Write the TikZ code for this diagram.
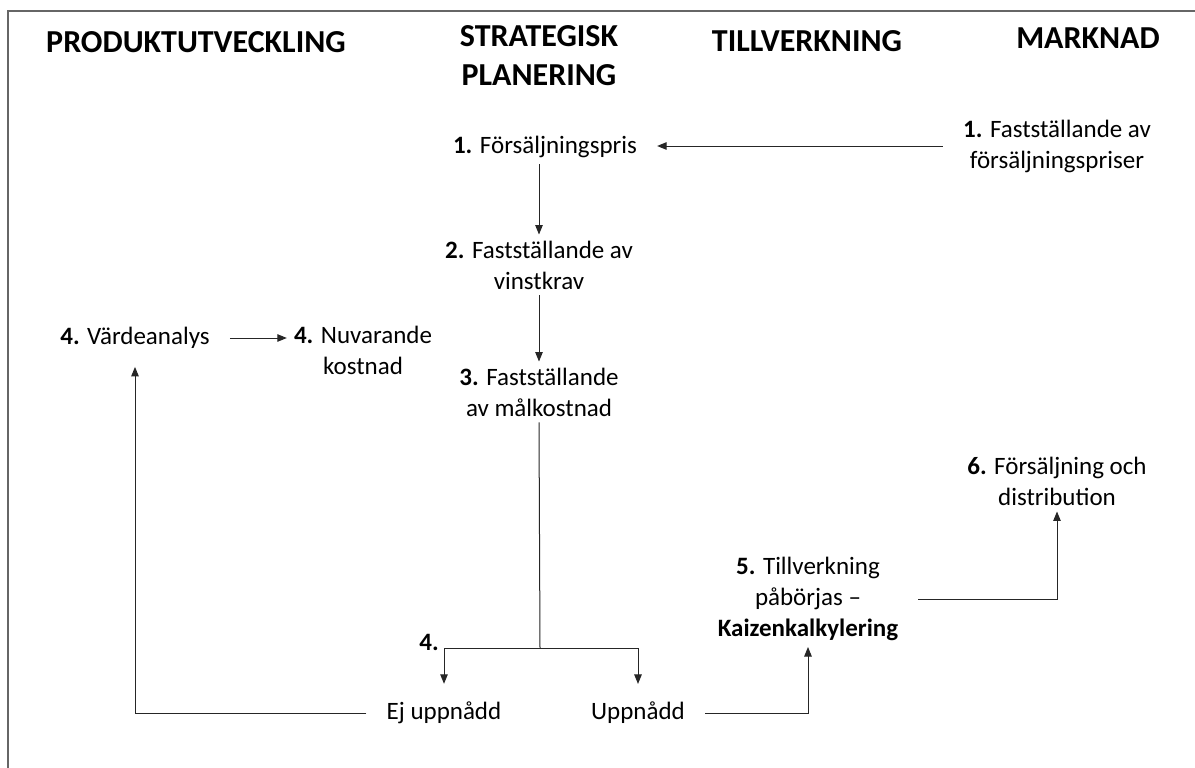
\documentclass[tikz,border=0pt]{standalone}
\usepackage{fontspec}
\setmainfont{Carlito}
\usepackage{tikz}
\usetikzlibrary{arrows.meta,calc}

\begin{document}
\begin{tikzpicture}[x=1pt,y=-1pt,
    >={Triangle[length=9.5pt,width=7.5pt]},
    lane/.style={font=\fontsize{32}{39}\selectfont\bfseries, align=center, inner sep=0pt},
    txt/.style={font=\fontsize{25}{31}\selectfont, align=center, inner xsep=20pt, inner ysep=6pt},
    link/.style={line width=1pt, black!85}]
    \useasboundingbox (0,0) rectangle (1195,768);
    \clip (0,0) rectangle (1195,768);
    \draw[black!60, line width=1.5pt] (8,11) rectangle (1220,790);

    % lanes
    \node[lane] (hprod) at (196,42) {PRODUKTUTVECKLING};
    \node[lane] (hstrat) at (539,56) {STRATEGISK\\PLANERING};
    \node[lane] (htill) at (807,41) {TILLVERKNING};
    \node[lane] (hmark) at (1088,38) {MARKNAD};

    % steps
    \node[txt] (pris) at (545,147) {\textbf{1.} Försäljningspris};
    \node[txt] (fmark) at (1057,146) {\textbf{1.} Fastställande av\\försäljningspriser};
    \node[txt] (vinst) at (539,265) {\textbf{2.} Fastställande av\\vinstkrav};
    \node[txt] (malk) at (539,392) {\textbf{3.} Fastställande\\av målkostnad};
    \node[txt] (vard) at (135,338) {\textbf{4.} Värdeanalys};
    \node[txt] (nuv) at (363,350) {\textbf{4.} Nuvarande\\kostnad};
    \node[txt] (ejupp) at (444,713) {Ej uppnådd};
    \node[txt] (upp) at (638,713) {Uppnådd};
    \node[txt, inner sep=0pt] (four) at (429,642) {\textbf{4.}};
    \node[txt] (tillv) at (808,599) {\textbf{5.} Tillverkning\\påbörjas --\\\textbf{Kaizenkalkylering}};
    \node[txt] (salj) at (1057,481) {\textbf{6.} Försäljning och\\distribution};
    \coordinate (split) at (540,648);

    % flow
    \draw[link,->] (fmark.west) -- (fmark.west -| pris.east);
    \draw[link,->] (pris.south -| vinst.north) -- (vinst.north);
    \draw[link,->] (vinst.south) -- (malk.north);
    \draw[link] (malk.south) -- (split);
    \draw[link,->] (split) -| ([yshift=12pt]ejupp.north);
    \draw[link,->] (split) -| ([yshift=12pt]upp.north);
    \draw[link,->] (ejupp.west) -| ([yshift=-12pt]vard.south);
    \draw[link,->] (vard.east) -- ([xshift=13pt]vard.east -| nuv.west);
    \draw[link,->] (upp.east) -| (tillv.south);
    \draw[link,->] (tillv.east) -| (salj.south);
\end{tikzpicture}
\end{document}
